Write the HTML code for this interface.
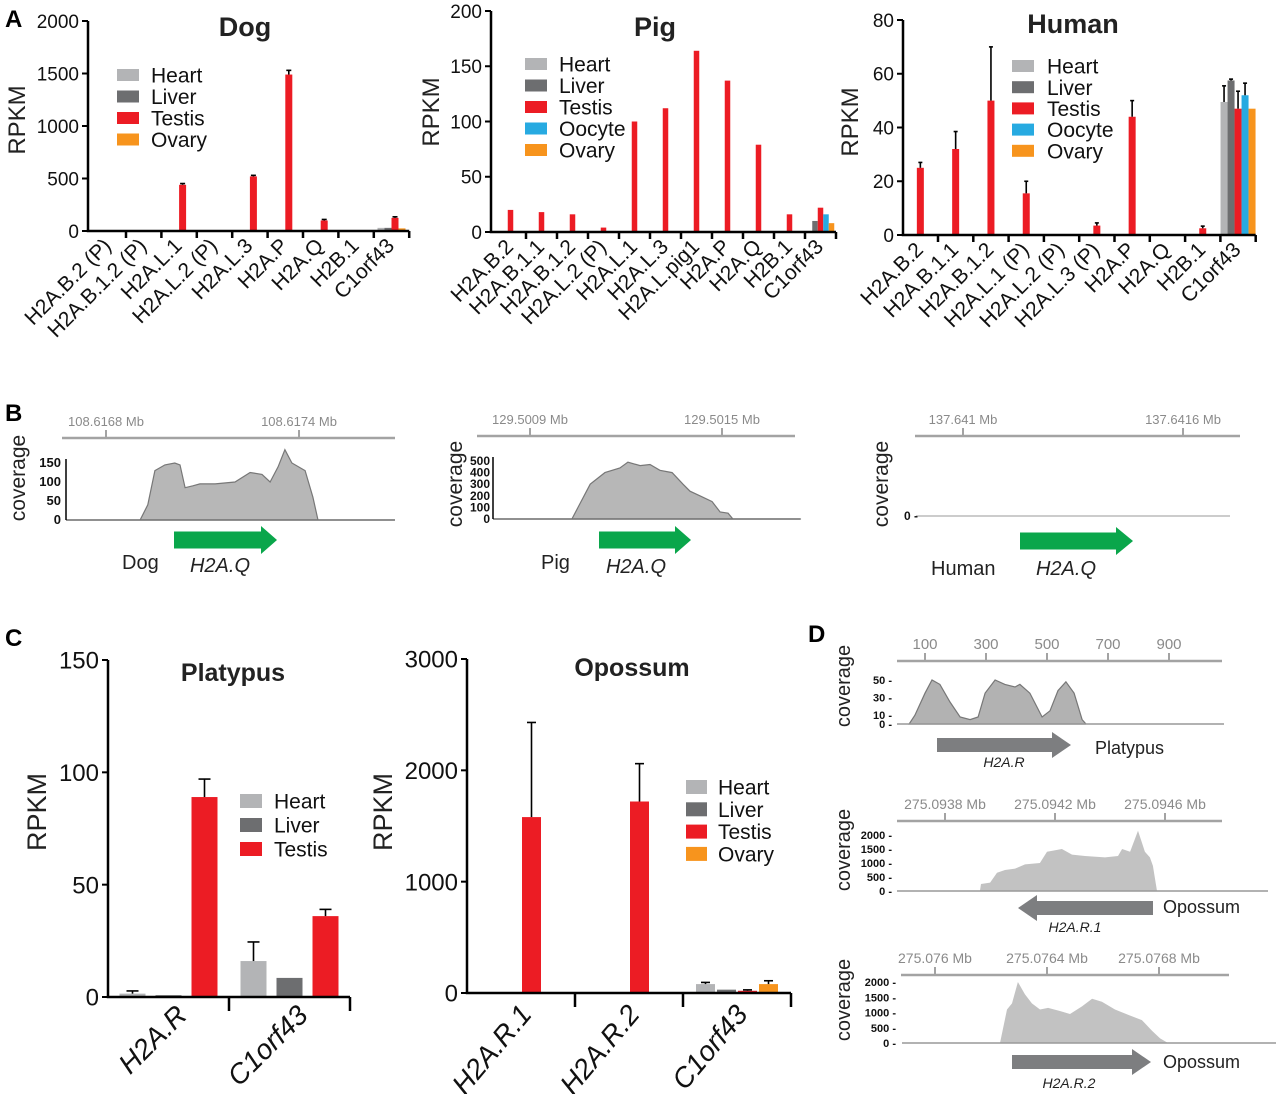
<!DOCTYPE html>
<html><head><meta charset="utf-8"><style>
html,body{margin:0;padding:0;background:#fff;}
svg{display:block;font-family:"Liberation Sans",Arial,sans-serif;}
</style></head><body>
<svg id="fig" width="1280" height="1094" viewBox="0 0 1280 1094" xmlns="http://www.w3.org/2000/svg">
<text x="5" y="27" font-size="24" font-weight="bold">A</text>
<text x="5" y="421" font-size="24" font-weight="bold">B</text>
<text x="5" y="646" font-size="24" font-weight="bold">C</text>
<text x="808" y="642" font-size="24" font-weight="bold">D</text>
</svg>
<script>
// ---------- data ----------
const tissueNames = ['Heart','Liver','Testis','Oocyte','Ovary'];
const tissueColors = ['#b3b4b6','#6d6e70','#ec1c24','#27aae1','#f7941d'];

const dogCats = ['H2A.B.2 (P)','H2A.B.1.2 (P)','H2A.L.1','H2A.L.2 (P)','H2A.L.3','H2A.P','H2A.Q','H2B.1','C1orf43'];
const dogHeart  = [0,0,0,0,0,0,0,0,30];
const dogLiver  = [0,0,0,0,0,0,0,0,30];
const dogTestis = [0,0,440,0,520,1490,100,0,125];
const dogOvary  = [0,0,0,0,0,0,0,0,25];
const dogTestisErr = [0,0,12,0,10,40,10,0,10];
const dogTicks = [0,500,1000,1500,2000];

const pigCats = ['H2A.B.2','H2A.B.1.1','H2A.B.1.2','H2A.L.2 (P)','H2A.L.1','H2A.L.3','H2A.L.pig1','H2A.P','H2A.Q','H2B.1','C1orf43'];
const pigHeart  = [0,0,0,0,0,0,0,0,0,0,0];
const pigLiver  = [0,0,0,0,0,0,0,0,0,0,10];
const pigTestis = [20,18,16,4,100,112,164,137,79,16,22];
const pigOocyte = [0,0,0,0,0,0,0,0,0,0,16];
const pigOvary  = [0,0,0,0,0,0,0,0,0,0,8];
const pigTicks = [0,50,100,150,200];

const humanCats = ['H2A.B.2','H2A.B.1.1','H2A.B.1.2','H2A.L.1 (P)','H2A.L.2 (P)','H2A.L.3 (P)','H2A.P','H2A.Q','H2B.1','C1orf43'];
const humanHeart  = [0,0,0,0,0,0,0,0,0,49.5];
const humanLiver  = [0,0,0,0,0,0,0,0,0,57.5];
const humanTestis = [25,32,50,15.5,0,3.5,44,0,2.5,47];
const humanOocyte = [0,0,0,0,0,0,0,0,0,52];
const humanOvary  = [0,0,0,0,0,0,0,0,0,47];
const humanHeartErr  = [0,0,0,0,0,0,0,0,0,6];
const humanLiverErr  = [0,0,0,0,0,0,0,0,0,0.5];
const humanTestisErr = [2,6.5,20,4.5,0,1,6,0,0.8,6.5];
const humanOocyteErr = [0,0,0,0,0,0,0,0,0,4.5];
const humanTicks = [0,20,40,60,80];

const platCats = ['H2A.R','C1orf43'];
const platHeart  = [1.5,16];
const platLiver  = [0.8,8.5];
const platTestis = [89,36];
const platHeartErr  = [1.2,8.5];
const platTestisErr = [8,3];
const platTicks = [0,50,100,150];

const opoCats = ['H2A.R.1','H2A.R.2','C1orf43'];
const opoHeart  = [0,0,80];
const opoLiver  = [0,0,30];
const opoTestis = [1580,1720,20];
const opoOvary  = [0,0,80];
const opoHeartErr  = [0,0,15];
const opoTestisErr = [850,340,8];
const opoOvaryErr  = [0,0,30];
const opoTicks = [0,1000,2000,3000];

// coverage profiles (position in bp offset, coverage)
const dogCovPos = [-124,106,130,152,183,214,230,246,270,292,339,401,448,485,510,535,556,578,619,643,659,898];
const dogCovVal = [0,0,40,130,145,150,145,85,90,95,95,100,125,120,100,140,185,150,130,60,0,0];
const pigCovPos = [-115,131,150,188,234,281,306,344,375,406,444,478,500,531,569,594,619,634,847];
const pigCovVal = [0,0,100,300,400,440,490,460,470,420,400,300,240,200,150,60,50,0,0];
const platCovPos = [48,67,100,123,149,182,215,248,274,297,330,362,395,411,444,484,510,536,562,589,615,628];
const platCovVal = [0,10,35,50,45,25,8,5,8,35,50,45,42,45,35,8,15,38,48,35,5,0];
const opo1CovPos = [127,131,164,189,218,255,291,345,371,425,462,509,582,629,644,673,702,727,745,756,771];
const opo1CovVal = [0,250,300,650,750,800,950,1000,1400,1500,1300,1250,1200,1250,1500,1400,2150,1400,1200,900,0];
const opo2CovPos = [232,257,275,296,321,346,375,404,446,482,525,561,596,643,696,739,775,804,832];
const opo2CovVal = [0,1100,1300,2000,1600,1300,1100,1150,1050,950,1200,1450,1350,1100,900,750,400,150,0];

// ---------- helpers ----------
const NS='http://www.w3.org/2000/svg';
const svg=document.getElementById('fig');
function mk(tag,attrs,parent){const e=document.createElementNS(NS,tag);for(const k in attrs)e.setAttribute(k,attrs[k]);(parent||svg).appendChild(e);return e;}
function txt(str,attrs,parent){const e=mk('text',attrs,parent);e.textContent=str;return e;}

function barChart(c){
  const g=mk('g',{});
  
  
  const n=c.series.length;
  const yS=v=>c.y0 - v/c.yMax*(c.y0-c.yTop);
  const xEnd=c.x0+c.cats.length*c.catW;
  const ya=mk('line',{x1:c.ax,y1:c.yTop,x2:c.ax,y2:c.y0+1,stroke:'#000','stroke-width':c.axW},g);
  
  
  c.yTicks.forEach(t=>{
    const yy=yS(t);
    const tl=mk('line',{x1:c.ax-6,y1:yy,x2:c.ax,y2:yy,stroke:'#000','stroke-width':2},g);
    
    
    const lb=txt(String(t),{x:c.ax-9,y:yy+c.tickSize*0.36,'font-size':c.tickSize,'text-anchor':'end',fill:'#111'},g);
    
    
  });
  c.cats.forEach((cat,i)=>{
    const cx=c.x0+(i+0.5)*c.catW;
    c.series.forEach((s,j)=>{
      const v=s.vals[i];
      if(v<=0) return;
      const bx=cx+(j-(n-1)/2)*c.pitch;
      const r=mk('rect',{x:bx-c.barW/2,y:yS(v),width:c.barW,height:c.y0-yS(v),fill:s.color},g);
      
      
      if(s.errs && s.errs[i]>0){
        const yt=yS(v+s.errs[i]);
        const eg=mk('g',{stroke:'#000','stroke-width':1.6},g);
        
        
        mk('line',{x1:bx,y1:yS(v),x2:bx,y2:yt},eg);
        mk('line',{x1:bx-c.capW/2,y1:yt,x2:bx+c.capW/2,y2:yt},eg);
      }
    });
    const lx=cx+c.labDx, ly=c.y0+c.labDy;
    const lb=txt(cat,{x:lx,y:ly,'font-size':c.labSize,'text-anchor':'end',fill:'#111','font-style':c.italic?'italic':'normal',transform:'rotate('+c.labRot+' '+lx+' '+ly+')'},g);
    
    
  });
  const xa=mk('line',{x1:c.ax-c.axW/2,y1:c.y0,x2:xEnd,y2:c.y0,stroke:'#000','stroke-width':c.axW},g);
  
  
  for(let k=1;k<=c.cats.length;k++){
    const xx=c.x0+k*c.catW;
    const tk=mk('line',{x1:xx,y1:c.y0,x2:xx,y2:c.y0+c.tickLen,stroke:'#000','stroke-width':2.5},g);
    
    
  }
  const tt=txt(c.title,{x:c.titleX,y:c.titleY,'font-size':c.titleSize,'font-weight':'bold','text-anchor':'middle',fill:'#222'},g);
  
  
  const yt=txt('RPKM',{x:c.rpX,y:c.rpY,'font-size':c.rpSize,'text-anchor':'middle',fill:'#222',transform:'rotate(-90 '+c.rpX+' '+c.rpY+')'},g);
  
  
  const L=c.legend;
  c.legendSeries.forEach((s,k)=>{
    const yy=L.y+k*L.dy;
    const le=mk('g',{},g);
    
    
    mk('rect',{x:L.x,y:yy-L.sqH/2,width:L.sqW,height:L.sqH,fill:s.color},le);
    txt(s.name,{x:L.x+L.sqW+L.gap,y:yy+L.size*0.36,'font-size':L.size,fill:'#111'},le);
  });
}

function S(name,vals,errs){const i=tissueNames.indexOf(name);return {name:name,vals:vals,errs:errs,color:tissueColors[i]};}

// ---------- Panel A ----------
const dogSeries=[S('Heart',dogHeart),S('Liver',dogLiver),S('Testis',dogTestis,dogTestisErr),S('Ovary',dogOvary)];
barChart({name:'dog-chart',cats:dogCats,series:dogSeries,legendSeries:dogSeries,x0:90.6,ax:88,catW:35.4,y0:231,yTop:21,yMax:2000,yTicks:dogTicks,
  barW:7,pitch:7,capW:5,axW:2.5,tickLen:7,tickSize:19,labSize:21,labRot:-45,labDx:4,labDy:16,italic:false,
  title:'Dog',titleX:245,titleY:36,titleSize:27,rpX:25,rpY:120,rpSize:24,
  legend:{x:117,y:75,dy:21.5,sqW:22,sqH:12,gap:12,size:21}});
const pigSeries=[S('Heart',pigHeart),S('Liver',pigLiver),S('Testis',pigTestis),S('Oocyte',pigOocyte),S('Ovary',pigOvary)];
barChart({name:'pig-chart',cats:pigCats,series:pigSeries,legendSeries:pigSeries,x0:495,ax:491,catW:31.0,y0:232,yTop:11,yMax:200,yTicks:pigTicks,
  barW:5.5,pitch:5.5,capW:4,axW:2.5,tickLen:7,tickSize:19,labSize:21,labRot:-45,labDx:4,labDy:16,italic:false,
  title:'Pig',titleX:655,titleY:36,titleSize:27,rpX:439,rpY:112,rpSize:24,
  legend:{x:525,y:64,dy:21.5,sqW:22,sqH:12,gap:12,size:21}});
const humanSeries=[S('Heart',humanHeart,humanHeartErr),S('Liver',humanLiver,humanLiverErr),S('Testis',humanTestis,humanTestisErr),S('Oocyte',humanOocyte,humanOocyteErr),S('Ovary',humanOvary)];
barChart({name:'human-chart',cats:humanCats,series:humanSeries,legendSeries:humanSeries,x0:902.7,ax:903,catW:35.3,y0:235,yTop:20,yMax:80,yTicks:humanTicks,
  barW:7,pitch:7,capW:4,axW:2.5,tickLen:7,tickSize:19,labSize:21,labRot:-45,labDx:4,labDy:16,italic:false,
  title:'Human',titleX:1073,titleY:33,titleSize:27,rpX:858,rpY:122,rpSize:24,
  legend:{x:1012,y:66,dy:21.2,sqW:22,sqH:12,gap:13,size:21}});

// ---------- Panel C ----------
const platSeries=[S('Heart',platHeart,platHeartErr),S('Liver',platLiver),S('Testis',platTestis,platTestisErr)];
barChart({name:'platypus-chart',cats:platCats,series:platSeries,legendSeries:platSeries,x0:108,ax:108,catW:121,y0:997,yTop:660,yMax:150,yTicks:platTicks,
  barW:26,pitch:36,capW:12,axW:2.5,tickLen:14,tickSize:24,labSize:28,labRot:-45,labDx:20,labDy:20,italic:true,
  title:'Platypus',titleX:233,titleY:681,titleSize:25,rpX:46,rpY:812,rpSize:27,
  legend:{x:240,y:801,dy:24,sqW:22,sqH:14,gap:12,size:21}});
const opoSeries=[S('Heart',opoHeart,opoHeartErr),S('Liver',opoLiver),S('Testis',opoTestis,opoTestisErr),S('Ovary',opoOvary,opoOvaryErr)];
barChart({name:'opossum-chart',cats:opoCats,series:opoSeries,legendSeries:opoSeries,x0:467,ax:467,catW:108,y0:993,yTop:659,yMax:3000,yTicks:opoTicks,
  barW:19,pitch:21,capW:9,axW:2.5,tickLen:14,tickSize:24,labSize:28,labRot:-50,labDx:12,labDy:22,italic:true,
  title:'Opossum',titleX:632,titleY:676,titleSize:25,rpX:392,rpY:812,rpSize:27,
  legend:{x:686,y:787,dy:22.3,sqW:21,sqH:14,gap:11,size:21}});

// ---------- coverage tracks ----------
function track(c){
  const g=mk('g',{});
  
  
  const px=bp=>c.ox+bp*c.pxPerBp;
  const py=v=>c.baseY - v*c.pxPerUnit;
  const ax=mk('line',{x1:c.axX1,y1:c.axY,x2:c.axX2,y2:c.axY,stroke:'#a3a3a3','stroke-width':2.5},g);
  
  
  c.ticks.forEach(t=>{
    const xx=px(t.bp);
    mk('line',{x1:xx,y1:c.axY,x2:xx,y2:c.axY-8,stroke:'#a3a3a3','stroke-width':2},g);
    const lb=txt(t.label,{x:xx,y:c.axY-12,'font-size':c.coordSize,'text-anchor':'middle',fill:'#8a8a8a'},g);
    
    
  });
  if(c.pos){
    let d='M'+px(c.pos[0])+' '+c.baseY;
    c.pos.forEach((p,i)=>{d+=' L'+px(p).toFixed(1)+' '+py(c.vals[i]).toFixed(1);});
    d+=' L'+px(c.pos[c.pos.length-1])+' '+c.baseY+' Z';
    const a=mk('path',{d:d,fill:c.fill,stroke:c.stroke||'none','stroke-width':1.2},g);
    
    
  }
  const bl=mk('line',{x1:c.baseX1,y1:c.baseY,x2:c.baseX2,y2:c.baseY,stroke:c.baseStroke,'stroke-width':1.5},g);
  
  
  if(c.yAxis){mk('line',{x1:c.baseX1,y1:c.baseY,x2:c.baseX1,y2:py(c.yLabels[c.yLabels.length-1])-4,stroke:'#000','stroke-width':1.5},g);}
  c.yLabels.forEach(v=>{
    const lb=txt(String(v)+(c.dash?' -':''),{x:c.yLabX,y:py(v)+4,'font-size':c.ySize,'font-weight':'bold','text-anchor':'end',fill:'#111'},g);
    
    
  });
  const cv=txt('coverage',{x:c.covX,y:c.covY,'font-size':c.covSize,'text-anchor':'middle',fill:'#222',transform:'rotate(-90 '+c.covX+' '+c.covY+')'},g);
  
  
  const A=c.arrow; const h=A.h, hh=A.hh, hl=A.hl;
  let pts;
  if(A.dir>0) pts=[[A.x1,A.y-h/2],[A.x2-hl,A.y-h/2],[A.x2-hl,A.y-hh/2],[A.x2,A.y],[A.x2-hl,A.y+hh/2],[A.x2-hl,A.y+h/2],[A.x1,A.y+h/2]];
  else pts=[[A.x2,A.y-h/2],[A.x1+hl,A.y-h/2],[A.x1+hl,A.y-hh/2],[A.x1,A.y],[A.x1+hl,A.y+hh/2],[A.x1+hl,A.y+h/2],[A.x2,A.y+h/2]];
  const ar=mk('polygon',{points:pts.map(p=>p.join(',')).join(' '),fill:A.color},g);
  
  
  const gn=txt(c.gene,{x:c.geneX,y:c.geneY,'font-size':c.geneSize,'font-style':'italic','text-anchor':'middle',fill:'#222'},g);
  
  
  const sp=txt(c.species,{x:c.spX,y:c.spY,'font-size':c.spSize,fill:'#222'},g);
  
  
}

const green='#0aa64b';
track({name:'dog-coverage-track',ox:106,pxPerBp:0.3217,pxPerUnit:0.38,axY:438,axX1:62,axX2:395,coordSize:13,
  ticks:[{bp:0,label:'108.6168 Mb'},{bp:600,label:'108.6174 Mb'}],
  pos:dogCovPos,vals:dogCovVal,fill:'#b7b7b7',stroke:'#777',baseY:520,baseX1:66,baseX2:395,baseStroke:'#777',yAxis:true,
  yLabels:[0,50,100,150],yLabX:61,ySize:13,dash:false,covX:25,covY:478,covSize:21,
  arrow:{x1:174,x2:277,y:540,h:17,hh:28,hl:16,dir:1,color:green},
  gene:'H2A.Q',geneX:220,geneY:572,geneSize:20,species:'Dog',spX:122,spY:569,spSize:20});
track({name:'pig-coverage-track',ox:530,pxPerBp:0.32,pxPerUnit:0.116,axY:436,axX1:477,axX2:795,coordSize:13,
  ticks:[{bp:0,label:'129.5009 Mb'},{bp:600,label:'129.5015 Mb'}],
  pos:pigCovPos,vals:pigCovVal,fill:'#b7b7b7',stroke:'#777',baseY:519,baseX1:493,baseX2:800,baseStroke:'#777',yAxis:true,
  yLabels:[0,100,200,300,400,500],yLabX:490,ySize:12,dash:false,covX:462,covY:484,covSize:21,
  arrow:{x1:599,x2:691,y:540,h:17,hh:28,hl:16,dir:1,color:green},
  gene:'H2A.Q',geneX:636,geneY:573,geneSize:20,species:'Pig',spX:541,spY:569,spSize:20});
track({name:'human-coverage-track',ox:963,pxPerBp:0.3667,pxPerUnit:1,axY:436,axX1:915,axX2:1240,coordSize:13,
  ticks:[{bp:0,label:'137.641 Mb'},{bp:600,label:'137.6416 Mb'}],
  pos:null,vals:null,fill:'#b7b7b7',baseY:516,baseX1:916,baseX2:1230,baseStroke:'#bbb',yAxis:false,
  yLabels:[0],yLabX:918,ySize:12,dash:true,covX:888,covY:484,covSize:21,
  arrow:{x1:1020,x2:1133,y:541,h:17,hh:28,hl:17,dir:1,color:green},
  gene:'H2A.Q',geneX:1066,geneY:575,geneSize:20,species:'Human',spX:931,spY:575,spSize:20});

const grayArrow='#7d7e80';
track({name:'platypus-coverage-track',ox:925-100*0.305,pxPerBp:0.305,pxPerUnit:0.88,axY:661,axX1:897,axX2:1222,coordSize:15,
  ticks:[{bp:100,label:'100'},{bp:300,label:'300'},{bp:500,label:'500'},{bp:700,label:'700'},{bp:900,label:'900'}],
  pos:platCovPos,vals:platCovVal,fill:'#b2b2b2',stroke:'#777',baseY:724,baseX1:897,baseX2:1224,baseStroke:'#999',yAxis:false,
  yLabels:[0,10,30,50],yLabX:892,ySize:11,dash:true,covX:850,covY:686,covSize:20,
  arrow:{x1:937,x2:1071,y:745,h:14,hh:26,hl:19,dir:1,color:grayArrow},
  gene:'H2A.R',geneX:1004,geneY:767,geneSize:14,species:'Platypus',spX:1095,spY:754,spSize:18});
track({name:'opossum-h2a-r-1-coverage-track',ox:945,pxPerBp:0.275,pxPerUnit:0.028,axY:821,axX1:897,axX2:1222,coordSize:14,
  ticks:[{bp:0,label:'275.0938 Mb'},{bp:400,label:'275.0942 Mb'},{bp:800,label:'275.0946 Mb'}],
  pos:opo1CovPos,vals:opo1CovVal,fill:'#c2c2c2',stroke:null,baseY:891,baseX1:897,baseX2:1268,baseStroke:'#999',yAxis:false,
  yLabels:[0,500,1000,1500,2000],yLabX:892,ySize:11,dash:true,covX:850,covY:850,covSize:20,
  arrow:{x1:1018,x2:1153,y:908,h:14,hh:26,hl:19,dir:-1,color:grayArrow},
  gene:'H2A.R.1',geneX:1075,geneY:932,geneSize:14,species:'Opossum',spX:1163,spY:913,spSize:18});
track({name:'opossum-h2a-r-2-coverage-track',ox:935,pxPerBp:0.28,pxPerUnit:0.0305,axY:975,axX1:901,axX2:1229,coordSize:14,
  ticks:[{bp:0,label:'275.076 Mb'},{bp:400,label:'275.0764 Mb'},{bp:800,label:'275.0768 Mb'}],
  pos:opo2CovPos,vals:opo2CovVal,fill:'#c2c2c2',stroke:null,baseY:1043,baseX1:902,baseX2:1276,baseStroke:'#999',yAxis:false,
  yLabels:[0,500,1000,1500,2000],yLabX:896,ySize:11,dash:true,covX:850,covY:1000,covSize:20,
  arrow:{x1:1012,x2:1151,y:1062,h:14,hh:26,hl:19,dir:1,color:grayArrow},
  gene:'H2A.R.2',geneX:1069,geneY:1088,geneSize:14,species:'Opossum',spX:1163,spY:1068,spSize:18});
</script>
</body></html>
